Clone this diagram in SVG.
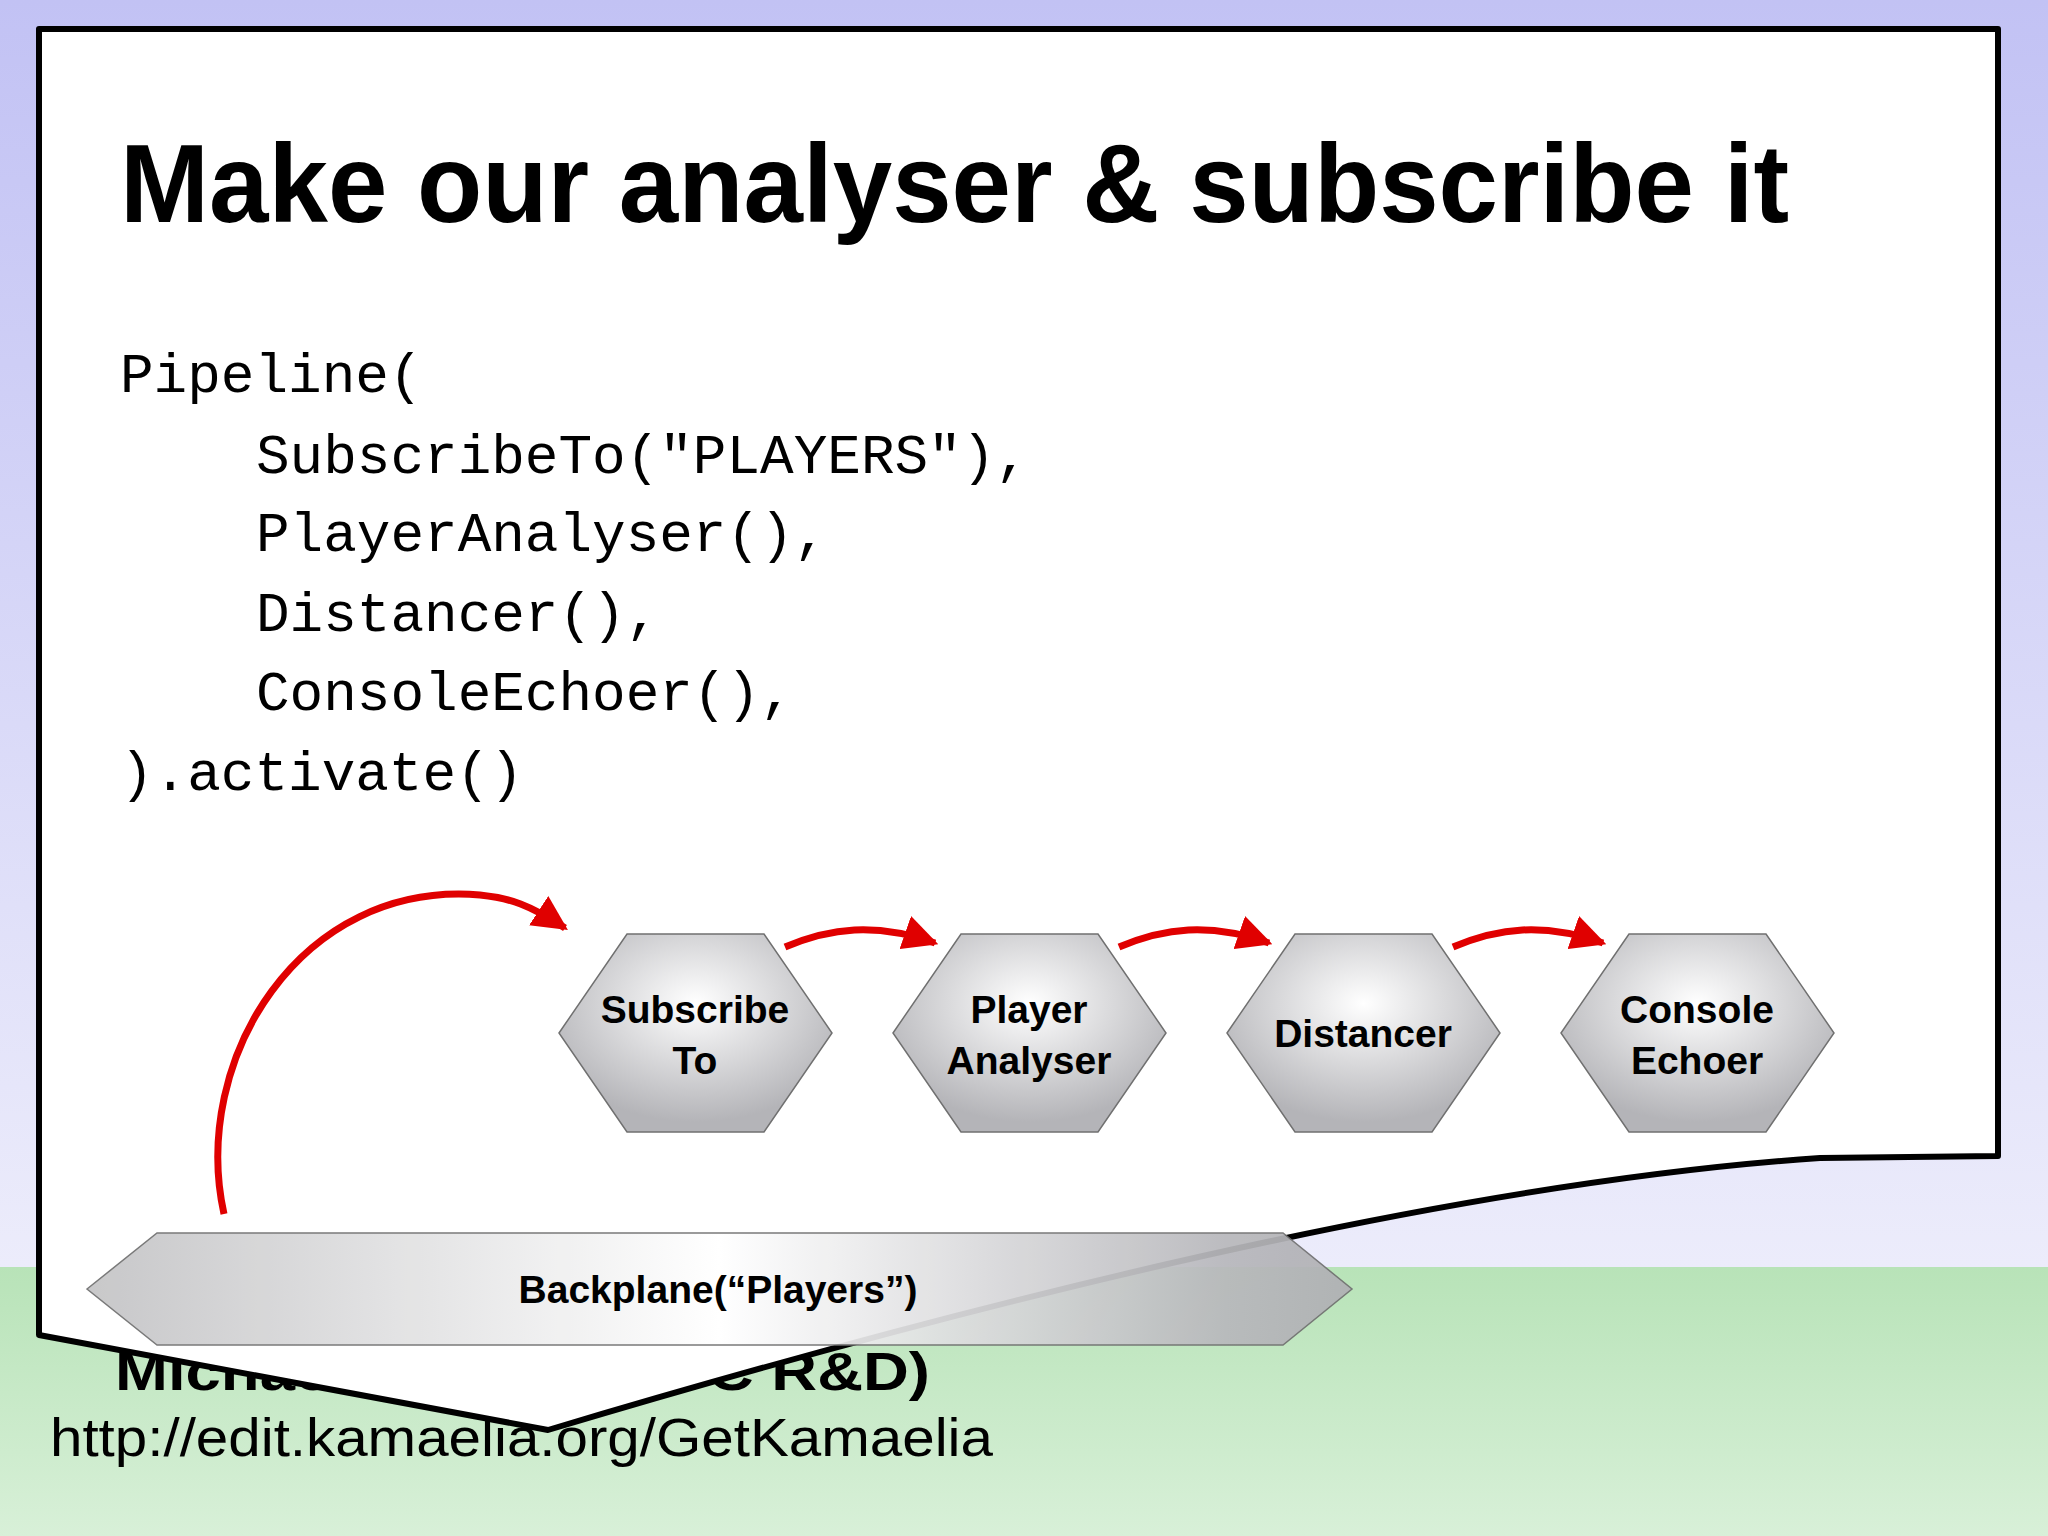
<svg xmlns="http://www.w3.org/2000/svg" width="2048" height="1536" viewBox="0 0 2048 1536">
<defs>
<linearGradient id="sky" x1="0" y1="0" x2="0" y2="1"><stop offset="0" stop-color="#c2c2f4"/><stop offset="1" stop-color="#ececfb"/></linearGradient>
<linearGradient id="grass" x1="0" y1="0" x2="0" y2="1"><stop offset="0" stop-color="#b8e3b8"/><stop offset="1" stop-color="#d8f0d8"/></linearGradient>
<radialGradient id="hex" cx="0.5" cy="0.35" r="0.6"><stop offset="0" stop-color="#ffffff"/><stop offset="1" stop-color="#b4b4b8"/></radialGradient>
<linearGradient id="bp" x1="0" y1="0" x2="1" y2="0"><stop offset="0" stop-color="#c4c4c6"/><stop offset="0.5" stop-color="#ffffff"/><stop offset="0.9" stop-color="#b8b8bc"/><stop offset="1" stop-color="#b0b0b4"/></linearGradient>
<marker id="ah" viewBox="0 0 10 10" refX="9" refY="5" markerWidth="5" markerHeight="5" orient="auto" markerUnits="strokeWidth"><path d="M0,0 L10,5 L0,10 z" fill="#e00000"/></marker>
<style>
.hx{fill:url(#hex);stroke:#707070;stroke-width:1.5}
.lb{font-family:"Liberation Sans",Arial,sans-serif;font-weight:bold;font-size:39px;text-anchor:middle;fill:#000}
.code{font-family:"Liberation Mono","DejaVu Sans Mono",monospace;font-size:56px;fill:#000}
.arr{fill:none;stroke:#e00000;stroke-width:7;marker-end:url(#ah)}
</style>
</defs>
<rect x="0" y="0" width="2048" height="1267" fill="url(#sky)"/>
<rect x="0" y="1267" width="2048" height="269" fill="url(#grass)"/>
<text x="115" y="1390" font-family="Liberation Sans,Arial,sans-serif" font-weight="bold" font-size="54" textLength="815" lengthAdjust="spacingAndGlyphs">Michael Sparks (BBC R&amp;D)</text>
<text x="50" y="1456" font-family="Liberation Sans,Arial,sans-serif" font-size="54" textLength="943" lengthAdjust="spacingAndGlyphs">http://edit.kamaelia.org/GetKamaelia</text>
<path d="M39,29 L1998,29 L1998,1156 L1820,1158 Q1350,1190 548,1430 L39,1335 Z" fill="#fff" stroke="#000" stroke-width="6" stroke-linejoin="round"/>
<text x="120" y="222" font-family="Liberation Sans,Arial,sans-serif" font-weight="bold" font-size="112" textLength="1669" lengthAdjust="spacingAndGlyphs">Make our analyser &amp; subscribe it</text>
<g class="code">
<text x="120" y="392">Pipeline(</text>
<text x="256" y="473">SubscribeTo("PLAYERS"),</text>
<text x="256" y="551">PlayerAnalyser(),</text>
<text x="256" y="631">Distancer(),</text>
<text x="256" y="710">ConsoleEchoer(),</text>
<text x="120" y="790">).activate()</text>
</g>
<g id="connectors">
<path class="arr" d="M224,1214 C190,1060 300,880 480,895 C510,898 530,905 565,928"/>
<path class="arr" d="M785,947 C830,928 875,922 935,943"/>
<path class="arr" d="M1119,947 C1164,928 1209,922 1269,943"/>
<path class="arr" d="M1453,947 C1498,928 1543,922 1603,943"/>
</g>
<g id="subscribe"><polygon class="hx" points="559,1033 627,934 764,934 832,1033 764,1132 627,1132"/><text class="lb" x="695" y="1023">Subscribe</text><text class="lb" x="695" y="1074">To</text></g>
<g id="analyser"><polygon class="hx" points="893,1033 961,934 1098,934 1166,1033 1098,1132 961,1132"/><text class="lb" x="1029" y="1023">Player</text><text class="lb" x="1029" y="1074">Analyser</text></g>
<g id="distancer"><polygon class="hx" points="1227,1033 1295,934 1432,934 1500,1033 1432,1132 1295,1132"/><text class="lb" x="1363" y="1047">Distancer</text></g>
<g id="echoer"><polygon class="hx" points="1561,1033 1629,934 1766,934 1834,1033 1766,1132 1629,1132"/><text class="lb" x="1697" y="1023">Console</text><text class="lb" x="1697" y="1074">Echoer</text></g>
<g id="backplane"><polygon points="87,1289 157,1233 1283,1233 1352,1289 1283,1345 157,1345" fill="url(#bp)" stroke="#707070" stroke-width="1.5" opacity="0.93"/><text class="lb" x="718" y="1303">Backplane(“Players”)</text></g>
</svg>
